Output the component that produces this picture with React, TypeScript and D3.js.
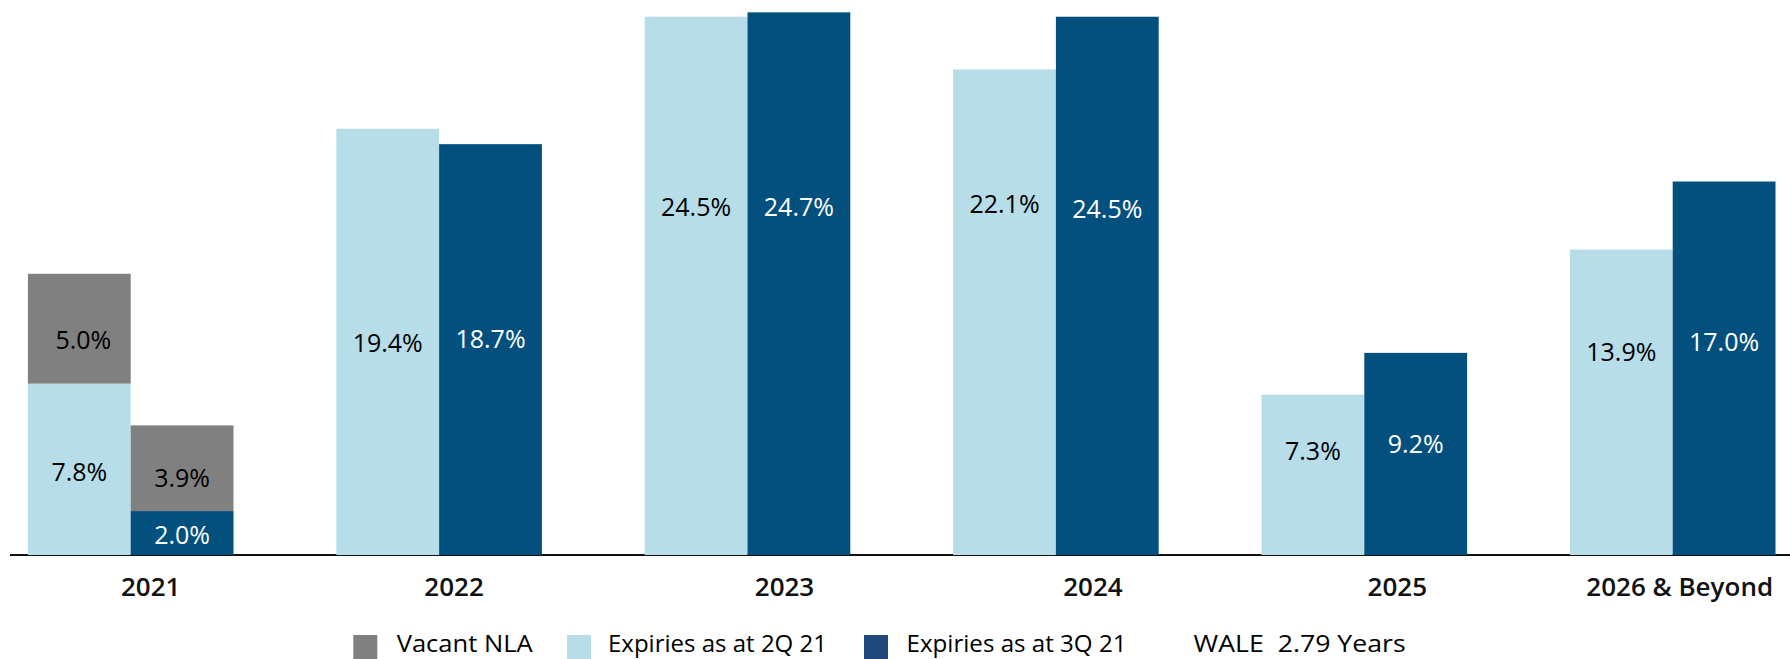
import React from "react";
import * as d3 from "d3";

const categories = ["2021", "2022", "2023", "2024", "2025", "2026 & Beyond"];
const expiries2Q = [7.8, 19.4, 24.5, 22.1, 7.3, 13.9];
const expiries3Q = [2.0, 18.7, 24.7, 24.5, 9.2, 17.0];
const vacant2Q = [5.0, 0, 0, 0, 0, 0];
const vacant3Q = [3.9, 0, 0, 0, 0, 0];
// label anchor values (in % units, as placed in the source chart)
const label2QAt = [3.76, 9.64, 15.82, 15.98, 4.73, 9.25];
const label3QAt = [0.91, 9.82, 15.82, 15.76, 5.05, 9.71];
const labelVacant2QAt = [9.79];
const labelVacant3QAt = [3.5];
const legendItems = ["Vacant NLA", "Expiries as at 2Q 21", "Expiries as at 3Q 21"];
const waleText = "WALE  2.79 Years";

const W = 1790;
const H = 659;
const C_LIGHT = "#B7DDE8";
const C_DARK = "#03507F";
const C_GRAY = "#808080";
const C_LEG_DARK = "#1F497D";
const FONT = "'Open Sans', 'Noto Sans', sans-serif";

export default function App() {
  const x = d3
    .scaleBand<string>()
    .domain(categories)
    .range([-23.5, 1826.9])
    .paddingInner(1 / 3)
    .paddingOuter(1 / 6);
  const sub = d3
    .scaleBand<string>()
    .domain(["2Q", "3Q"])
    .range([0, x.bandwidth()])
    .padding(0);
  const y = d3.scaleLinear().domain([0, 25]).range([555, 555 - 25 * 21.97]);
  const fmt = (v: number) => d3.format(".1f")(v) + "%";
  const labelNudge = [20, 15, 37, 37, 33, 7];
  const bw = sub.bandwidth();

  const bars: React.ReactNode[] = [];
  const labels: React.ReactNode[] = [];
  categories.forEach((c, i) => {
    const x2 = (x(c) ?? 0) + (sub("2Q") ?? 0);
    const x3 = (x(c) ?? 0) + (sub("3Q") ?? 0);
    bars.push(
      <rect key={"l" + i} x={x2} y={y(expiries2Q[i])} width={bw} height={y(0) - y(expiries2Q[i])} fill={C_LIGHT} />
    );
    bars.push(
      <rect key={"d" + i} x={x3} y={y(expiries3Q[i])} width={bw} height={y(0) - y(expiries3Q[i])} fill={C_DARK} />
    );
    if (vacant2Q[i] > 0) {
      const top = expiries2Q[i] + vacant2Q[i];
      bars.push(
        <rect key={"v2" + i} x={x2} y={y(top)} width={bw} height={y(expiries2Q[i]) - y(top)} fill={C_GRAY} />
      );
      labels.push(
        <text key={"tv2" + i} x={x2 + bw / 2 + 4} y={y(labelVacant2QAt[i])} dy="0.36em" textAnchor="middle" fill="#000">
          {fmt(vacant2Q[i])}
        </text>
      );
    }
    if (vacant3Q[i] > 0) {
      const top = expiries3Q[i] + vacant3Q[i];
      bars.push(
        <rect key={"v3" + i} x={x3} y={y(top)} width={bw} height={y(expiries3Q[i]) - y(top)} fill={C_GRAY} />
      );
      labels.push(
        <text key={"tv3" + i} x={x3 + bw / 2} y={y(labelVacant3QAt[i])} dy="0.36em" textAnchor="middle" fill="#000">
          {fmt(vacant3Q[i])}
        </text>
      );
    }
    labels.push(
      <text key={"t2" + i} x={x2 + bw / 2} y={y(label2QAt[i])} dy="0.36em" textAnchor="middle" fill="#000">
        {fmt(expiries2Q[i])}
      </text>
    );
    labels.push(
      <text key={"t3" + i} x={x3 + bw / 2} y={y(label3QAt[i])} dy="0.36em" textAnchor="middle" fill="#fff">
        {fmt(expiries3Q[i])}
      </text>
    );
  });

  const legendColors = [C_GRAY, C_LIGHT, C_LEG_DARK];
  const legendSquareX = [353.3, 567, 864];
  const legendTextX = [396.7, 608, 906.5];
  const legendTextW = [136, 219, 220];

  return (
    <svg
      width={W}
      height={H}
      style={{ position: "absolute", left: 0, top: 0, background: "#fff" }}
      xmlns="http://www.w3.org/2000/svg"
    >
      <line x1={10} x2={W} y1={555} y2={555} stroke="#111" strokeWidth={2} />
      <g>{bars}</g>
      <g fontFamily={FONT} fontSize={25} fontWeight={500}>
        {labels}
      </g>
      <g fontFamily={FONT} fontSize={26} fontWeight={600} fill="#111">
        {categories.map((c, i) => (
          <text key={c} x={(x(c) ?? 0) + x.bandwidth() / 2 + labelNudge[i]} y={596} textAnchor="middle">
            {c}
          </text>
        ))}
      </g>
      <g fontFamily={FONT} fontSize={23} fill="#000">
        {legendItems.map((t, i) => (
          <g key={t}>
            <rect x={legendSquareX[i]} y={635} width={24} height={24} fill={legendColors[i]} />
            <text x={legendTextX[i]} y={652} textLength={legendTextW[i]} lengthAdjust="spacingAndGlyphs">
              {t}
            </text>
          </g>
        ))}
        <text x={1193.6} y={652} textLength={212} lengthAdjust="spacingAndGlyphs" style={{ whiteSpace: "pre" }}>
          {waleText}
        </text>
      </g>
    </svg>
  );
}
